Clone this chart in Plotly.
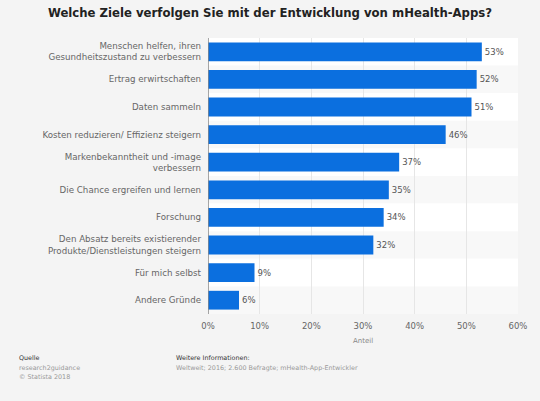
import plotly.graph_objects as go

categories = [
    "Menschen helfen, ihren<br>Gesundheitszustand zu verbessern",
    "Ertrag erwirtschaften",
    "Daten sammeln",
    "Kosten reduzieren/ Effizienz steigern",
    "Markenbekanntheit und -image<br>verbessern",
    "Die Chance ergreifen und lernen",
    "Forschung",
    "Den Absatz bereits existierender<br>Produkte/Dienstleistungen steigern",
    "Für mich selbst",
    "Andere Gründe",
]
values = [53, 52, 51, 46, 37, 35, 34, 32, 9, 6]
tick_vals = [0, 10, 20, 30, 40, 50, 60]
tick_text = ["0%", "10%", "20%", "30%", "40%", "50%", "60%"]

FONT = "DejaVu Sans"
ML, MR, MT, MB = 208, 22, 38, 87
W, H = 540, 401

fig = go.Figure()
fig.add_trace(go.Bar(
    x=values, y=categories, orientation="h",
    marker=dict(color="#0b6fdf", line=dict(width=0)),
    width=0.68,
    text=[f"{v}%" for v in values], textposition="outside",
    textfont=dict(family=FONT, size=8.5, color="#555555"),
    cliponaxis=False, hoverinfo="skip",
))

shapes = []
for i in range(len(categories)):
    shapes.append(dict(type="rect", xref="paper", yref="y", x0=0, x1=1,
                       y0=i - 0.5, y1=i + 0.5, layer="below", line=dict(width=0),
                       fillcolor="#ffffff" if i % 2 == 0 else "#f8f8f8"))
shapes.append(dict(type="line", xref="x", yref="paper", x0=0, x1=0, y0=0, y1=1,
                   line=dict(color="#888888", width=1.5), layer="above"))


def px_to_paper(xp, yp):
    pw = W - ML - MR
    ph = H - MT - MB
    return (xp - ML) / pw, (H - MB - yp) / ph


ann = []
for txt, xp, yp, col in [
    ("Quelle", 17, 358, "#333333"),
    ("research2guidance", 17, 368, "#999999"),
    ("© Statista 2018", 17, 377, "#999999"),
    ("Weitere Informationen:", 174, 358, "#333333"),
    ("Weltweit; 2016; 2.600 Befragte; mHealth-App-Entwickler", 174, 368, "#999999"),
]:
    x, y = px_to_paper(xp, yp)
    ann.append(dict(text=txt, x=x, y=y, xref="paper", yref="paper", showarrow=False,
                    xanchor="left", yanchor="middle",
                    font=dict(family=FONT, size=6.4, color=col)))

fig.update_layout(
    width=W, height=H,
    paper_bgcolor="#f4f4f4", plot_bgcolor="#ffffff",
    margin=dict(l=ML, r=MR, t=MT, b=MB, autoexpand=False),
    showlegend=False,
    shapes=shapes,
    annotations=ann,
    title=dict(text="<b>Welche Ziele verfolgen Sie mit der Entwicklung von mHealth-Apps?</b>",
               x=0.5, xanchor="center", y=1 - 13 / H, yanchor="middle",
               font=dict(family=FONT, size=11.7, color="#222222")),
    xaxis=dict(range=[0, 60], tickvals=tick_vals, ticktext=tick_text,
               showgrid=True, gridcolor="#e6e6e6", gridwidth=1, zeroline=False,
               tickfont=dict(family=FONT, size=8.5, color="#666666"),
               ticklabelstandoff=5,
               title=dict(text="Anteil", font=dict(family=FONT, size=7, color="#888888"),
                          standoff=8),
               ticks="", automargin=False, fixedrange=True),
    yaxis=dict(autorange="reversed", showgrid=False,
               tickfont=dict(family=FONT, size=8.7, color="#666666"),
               ticks="", ticklabelstandoff=6, automargin=False, fixedrange=True),
    font=dict(family=FONT),
)

fig.write_html("out.html", config={"displayModeBar": False},
               post_script="document.body.style.margin='0';document.body.style.background='#f4f4f4';")
